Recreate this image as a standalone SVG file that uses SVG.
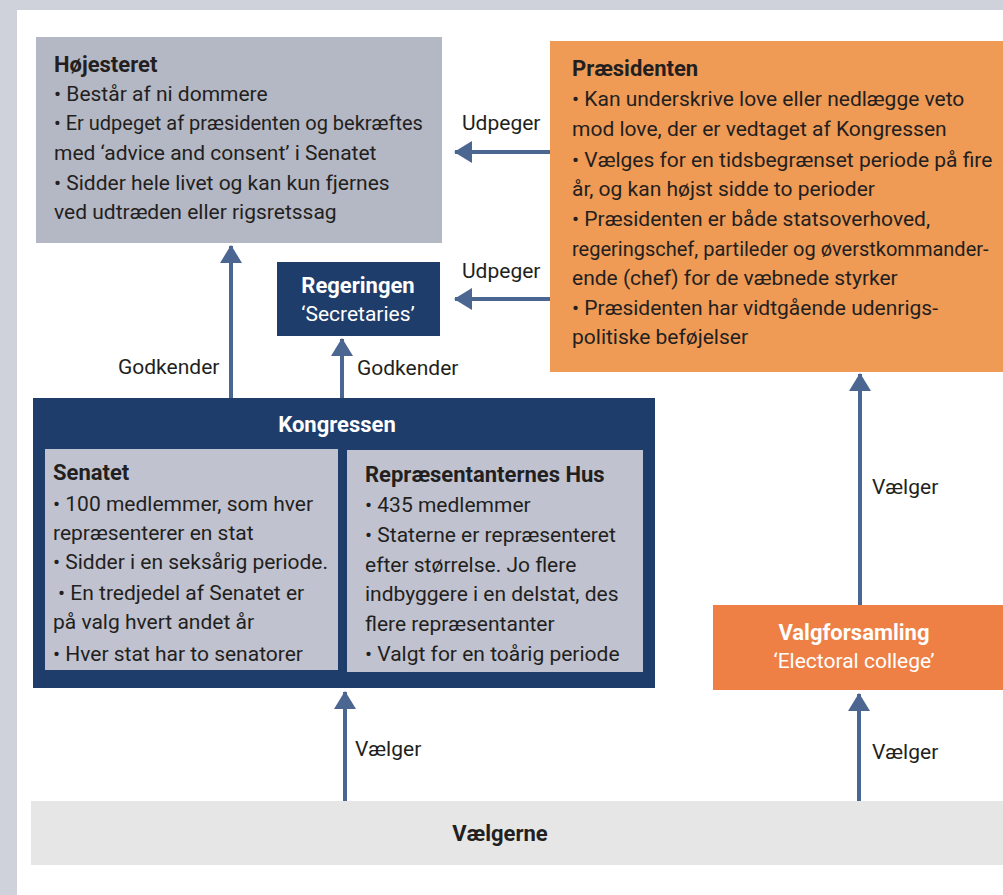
<svg xmlns="http://www.w3.org/2000/svg" width="1003" height="895" viewBox="0 0 1003 895">
<defs>
<marker id="ah" markerUnits="userSpaceOnUse" markerWidth="22" markerHeight="22" viewBox="0 0 18 22" refX="17" refY="11" orient="auto">
<path d="M0,0 L18,11 L0,22 Z" fill="#4b6691"/>
</marker>
<style>
.t{font-family:Roboto,"Liberation Sans",sans-serif;font-size:21px;fill:#231f20}
.b{font-weight:bold;font-size:22px}
.w{fill:#ffffff}
.c{text-anchor:middle}
.s{font-size:20px}
.lbl{font-family:Roboto,"Liberation Sans",sans-serif;font-size:21px;fill:#231f20}
.con{stroke:#4b6691;stroke-width:4;fill:none;marker-end:url(#ah)}
</style>
</defs>
<rect x="0" y="0" width="1003" height="895" fill="#cfd2da"/>
<rect x="17" y="10" width="986" height="885" fill="#ffffff"/>

<g id="hojesteret">
<rect x="36" y="37" width="406" height="206" fill="#b4b7c4"/>
<text class="t b" x="54" y="72">Højesteret</text>
<text class="t" x="54" y="101">• Består af ni dommere</text>
<text class="t s" x="54" y="130">• Er udpeget af præsidenten og bekræftes</text>
<text class="t" x="54" y="160">med ‘advice and consent’ i Senatet</text>
<text class="t" x="54" y="190">• Sidder hele livet og kan kun fjernes</text>
<text class="t" x="54" y="219">ved udtræden eller rigsretssag</text>
</g>

<g id="praesidenten">
<rect x="550" y="41" width="453" height="331" fill="#ef9a55"/>
<text class="t b" x="572" y="76">Præsidenten</text>
<text class="t" x="572" y="106">• Kan underskrive love eller nedlægge veto</text>
<text class="t" x="572" y="136">mod love, der er vedtaget af Kongressen</text>
<text class="t" x="572" y="167">• Vælges for en tidsbegrænset periode på fire</text>
<text class="t" x="572" y="196">år, og kan højst sidde to perioder</text>
<text class="t" x="572" y="226">• Præsidenten er både statsoverhoved,</text>
<text class="t s" x="572" y="256">regeringschef, partileder og øverstkommander-</text>
<text class="t" x="572" y="285">ende (chef) for de væbnede styrker</text>
<text class="t" x="572" y="315">• Præsidenten har vidtgående udenrigs-</text>
<text class="t" x="572" y="344">politiske beføjelser</text>
</g>

<g id="regeringen">
<rect x="277" y="262" width="163" height="74" fill="#1e3d6b"/>
<text class="t b w c" x="358" y="293">Regeringen</text>
<text class="t w c" x="358" y="321">‘Secretaries’</text>
</g>

<g id="kongressen">
<rect x="33" y="398" width="622" height="290" fill="#1e3d6b"/>
<text class="t b w c" x="337" y="432">Kongressen</text>
<g id="senatet">
<rect x="45" y="449" width="293" height="221" fill="#c0c2cf"/>
<text class="t b" x="53" y="480">Senatet</text>
<text class="t" x="53" y="511">• 100 medlemmer, som hver</text>
<text class="t" x="53" y="540">repræsenterer en stat</text>
<text class="t" x="53" y="569">• Sidder i en seksårig periode.</text>
<text class="t" x="58" y="600">• En tredjedel af Senatet er</text>
<text class="t" x="53" y="629">på valg hvert andet år</text>
<text class="t" x="53" y="661">• Hver stat har to senatorer</text>
</g>
<g id="hus">
<rect x="347" y="450" width="296" height="222" fill="#c0c2cf"/>
<text class="t b" x="365" y="482">Repræsentanternes Hus</text>
<text class="t" x="365" y="512">• 435 medlemmer</text>
<text class="t" x="365" y="542">• Staterne er repræsenteret</text>
<text class="t" x="365" y="572">efter størrelse. Jo flere</text>
<text class="t" x="365" y="601">indbyggere i en delstat, des</text>
<text class="t" x="365" y="631">flere repræsentanter</text>
<text class="t" x="365" y="661">• Valgt for en toårig periode</text>
</g>
</g>

<g id="valgforsamling">
<rect x="713" y="605" width="290" height="85" fill="#ee7f45"/>
<text class="t b w c" x="854" y="640">Valgforsamling</text>
<text class="t w c" x="854" y="668">‘Electoral college’</text>
</g>

<g id="vaelgerne">
<rect x="31" y="801" width="972" height="64" fill="#e6e6e6"/>
<text class="t b c" x="500" y="841">Vælgerne</text>
</g>

<g id="connectors">
<line class="con" x1="550" y1="152" x2="455" y2="152"/>
<line class="con" x1="550" y1="299" x2="455" y2="299"/>
<line class="con" x1="231" y1="398" x2="231" y2="246"/>
<line class="con" x1="342" y1="398" x2="342" y2="339"/>
<line class="con" x1="860" y1="605" x2="860" y2="374"/>
<line class="con" x1="345" y1="801" x2="345" y2="692"/>
<line class="con" x1="859" y1="801" x2="859" y2="694"/>
<text class="lbl" x="462" y="130">Udpeger</text>
<text class="lbl" x="462" y="278">Udpeger</text>
<text class="lbl" x="118" y="374">Godkender</text>
<text class="lbl" x="357" y="375">Godkender</text>
<text class="lbl" x="872" y="494">Vælger</text>
<text class="lbl" x="355" y="756">Vælger</text>
<text class="lbl" x="872" y="759">Vælger</text>
</g>
</svg>
